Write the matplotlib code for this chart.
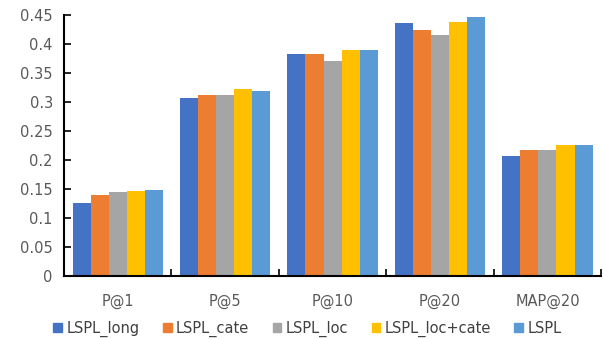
import matplotlib.pyplot as plt
import numpy as np
from matplotlib.patches import Patch

# metrics and per-model scores
metrics = ["P@1", "P@5", "P@10", "P@20", "MAP@20"]
models = ["LSPL_long", "LSPL_cate", "LSPL_loc", "LSPL_loc+cate", "LSPL"]
lspl_long = [0.126, 0.307, 0.382, 0.436, 0.206]
lspl_cate = [0.140, 0.312, 0.382, 0.424, 0.217]
lspl_loc = [0.144, 0.312, 0.370, 0.415, 0.217]
lspl_loc_cate = [0.147, 0.322, 0.390, 0.437, 0.225]
lspl = [0.149, 0.319, 0.390, 0.446, 0.225]
colors = ["#4472C4", "#ED7D31", "#A5A5A5", "#FFC000", "#5B9BD5"]

series = [lspl_long, lspl_cate, lspl_loc, lspl_loc_cate, lspl]

fig = plt.figure(figsize=(6.03, 3.39), dpi=100)
ax = fig.add_axes([0.106, 0.186, 0.891, 0.770])

x = np.arange(len(metrics))
w = 0.168
for i, vals in enumerate(series):
    ax.bar(x + (i - 2) * w, vals, width=w, color=colors[i], label=models[i])

ax.set_xlim(-0.5, len(metrics) - 0.5)
ax.set_ylim(0, 0.45)
ax.set_yticks(np.arange(0, 0.451, 0.05))
ax.set_yticklabels(["0", "0.05", "0.1", "0.15", "0.2", "0.25", "0.3", "0.35", "0.4", "0.45"])

# group labels at centres, tick marks between groups
ax.set_xticks(x)
ax.set_xticklabels(metrics)
ax.tick_params(axis="x", length=0, pad=13)
ax.set_xticks(np.arange(-0.5, len(metrics), 1), minor=True)
ax.tick_params(axis="x", which="minor", direction="in", length=5, width=1.2, color="black")
ax.tick_params(axis="y", direction="in", length=5, width=1.2, pad=8)
ax.tick_params(labelsize=10.5, labelcolor="#595959")

for s in ["top", "right"]:
    ax.spines[s].set_visible(False)
for s in ["left", "bottom"]:
    ax.spines[s].set_linewidth(1.5)
    ax.spines[s].set_color("black")

handles = [Patch(color=c, label=m) for c, m in zip(colors, models)]
leg = fig.legend(handles=handles, loc="center", bbox_to_anchor=(0.51, 0.03), ncol=5,
                 frameon=False, handlelength=0.6, handleheight=0.6, handletextpad=0.3,
                 columnspacing=1.6, fontsize=10.5)
for t in leg.get_texts():
    t.set_color("#404040")

fig.savefig("out.png", dpi=100)
